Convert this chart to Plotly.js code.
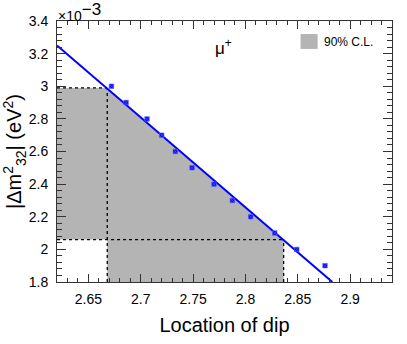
<!DOCTYPE html>
<html>
<head>
<meta charset="utf-8">
<script src="https://cdn.plot.ly/plotly-3.0.1.min.js"></script>
<style>
  html, body { margin: 0; padding: 0; background: #fff; }
  #graph { width: 407px; height: 344px; }
</style>
</head>
<body>
<div id="graph"></div>
<script>
// points: location of dip vs |dm2_32| (units of 1e-3 eV^2)
var dipX = [2.672, 2.686, 2.706, 2.720, 2.733, 2.749, 2.770, 2.7875, 2.805, 2.828, 2.849, 2.876];
var dm2 = [3.0, 2.9, 2.8, 2.7, 2.6, 2.5, 2.4, 2.3, 2.2, 2.1, 2.0, 1.9];

// fitted straight line
var fitX = [2.62, 2.883];
var fitY = [3.25, 1.80];

// 90% C.L. limits
var clDip = [2.668, 2.8365];
var clDm2 = [2.06, 2.99];

var xMin = 2.62, xMax = 2.94;
var yMin = 1.8, yMax = 3.4;

// gray area : union of the two bands, under the fit line
var bandX = [xMin, xMin, clDip[0], clDip[1], clDip[1], clDip[0], clDip[0], xMin];
var bandY = [clDm2[0], clDm2[1], clDm2[1], clDm2[0], yMin, yMin, clDm2[0], clDm2[0]];

var dots = {dash: 'dot', color: '#000', width: 1.3};

var data = [
  {
    x: bandX, y: bandY,
    type: 'scatter', mode: 'lines',
    fill: 'toself', fillcolor: '#b4b4b4',
    line: {width: 0},
    hoverinfo: 'skip', showlegend: false
  },
  {x: [xMin, clDip[0]], y: [clDm2[1], clDm2[1]], type: 'scatter', mode: 'lines', line: dots, showlegend: false},
  {x: [clDip[0], clDip[0]], y: [yMin, clDm2[1]], type: 'scatter', mode: 'lines', line: dots, showlegend: false},
  {x: [xMin, clDip[1]], y: [clDm2[0], clDm2[0]], type: 'scatter', mode: 'lines', line: dots, showlegend: false},
  {x: [clDip[1], clDip[1]], y: [yMin, clDm2[0]], type: 'scatter', mode: 'lines', line: dots, showlegend: false},
  {
    x: fitX, y: fitY,
    type: 'scatter', mode: 'lines',
    line: {color: '#0000ff', width: 2},
    showlegend: false
  },
  {
    x: dipX, y: dm2,
    type: 'scatter', mode: 'markers',
    marker: {symbol: 'square-x', size: 4.5, color: '#0000ff', line: {color: '#6060ff', width: 0.6}},
    cliponaxis: false,
    showlegend: false
  }
];

var fam = 'Liberation Sans, Arial, sans-serif';
var tickFont = {family: fam, size: 14, color: '#000'};

var layout = {
  width: 407, height: 344,
  margin: {l: 57, r: 15, t: 21, b: 62},
  paper_bgcolor: '#fff', plot_bgcolor: '#fff',
  showlegend: false,
  xaxis: {
    range: [xMin, xMax],
    tick0: 2.65, dtick: 0.05,
    ticks: 'inside', ticklen: 8, tickcolor: '#333', tickwidth: 1,
    minor: {ticks: 'inside', ticklen: 4, dtick: 0.01, tickcolor: '#333', tickwidth: 1, showgrid: false},
    showline: true, linecolor: '#333', linewidth: 1, mirror: 'ticks',
    showgrid: false, zeroline: false,
    tickfont: tickFont, ticklabelstandoff: 4,
    title: {text: 'Location of dip', font: {family: fam, size: 20, color: '#000'}, standoff: 12}
  },
  yaxis: {
    range: [yMin, yMax],
    tick0: 1.8, dtick: 0.2,
    ticks: 'inside', ticklen: 9, tickcolor: '#333', tickwidth: 1,
    minor: {ticks: 'inside', ticklen: 5, dtick: 0.04, tickcolor: '#333', tickwidth: 1, showgrid: false},
    showline: true, linecolor: '#333', linewidth: 1, mirror: 'ticks',
    showgrid: false, zeroline: false,
    tickfont: tickFont, ticklabelstandoff: 5,
    title: {text: '|Δm<sup>2</sup><sub>32</sub>| (eV<sup>2</sup>)', font: {family: fam, size: 20, color: '#000'}, standoff: 4}
  },
  shapes: [
    {type: 'rect', xref: 'paper', yref: 'paper', x0: 0.727, x1: 0.778, y0: 0.893, y1: 0.95,
     fillcolor: '#b4b4b4', line: {width: 0}}
  ],
  annotations: [
    {xref: 'paper', yref: 'paper', x: 0.79, y: 0.921, xanchor: 'left', yanchor: 'middle',
     text: '90% C.L.', showarrow: false, font: {family: fam, size: 12, color: '#000'}},
    {xref: 'paper', yref: 'paper', x: 0.465, y: 0.9, xanchor: 'left', yanchor: 'middle',
     text: 'μ<sup>+</sup>', showarrow: false, font: {family: fam, size: 17, color: '#000'}},
    {xref: 'paper', yref: 'paper', x: -0.003, y: 1.0, xanchor: 'left', yanchor: 'bottom', yshift: -5,
     text: '×10<sup><span style="font-size:17px">−3</span></sup>', showarrow: false, font: {family: fam, size: 14, color: '#000'}}
  ]
};

Plotly.newPlot('graph', data, layout, {displayModeBar: false, staticPlot: true});
</script>
</body>
</html>
